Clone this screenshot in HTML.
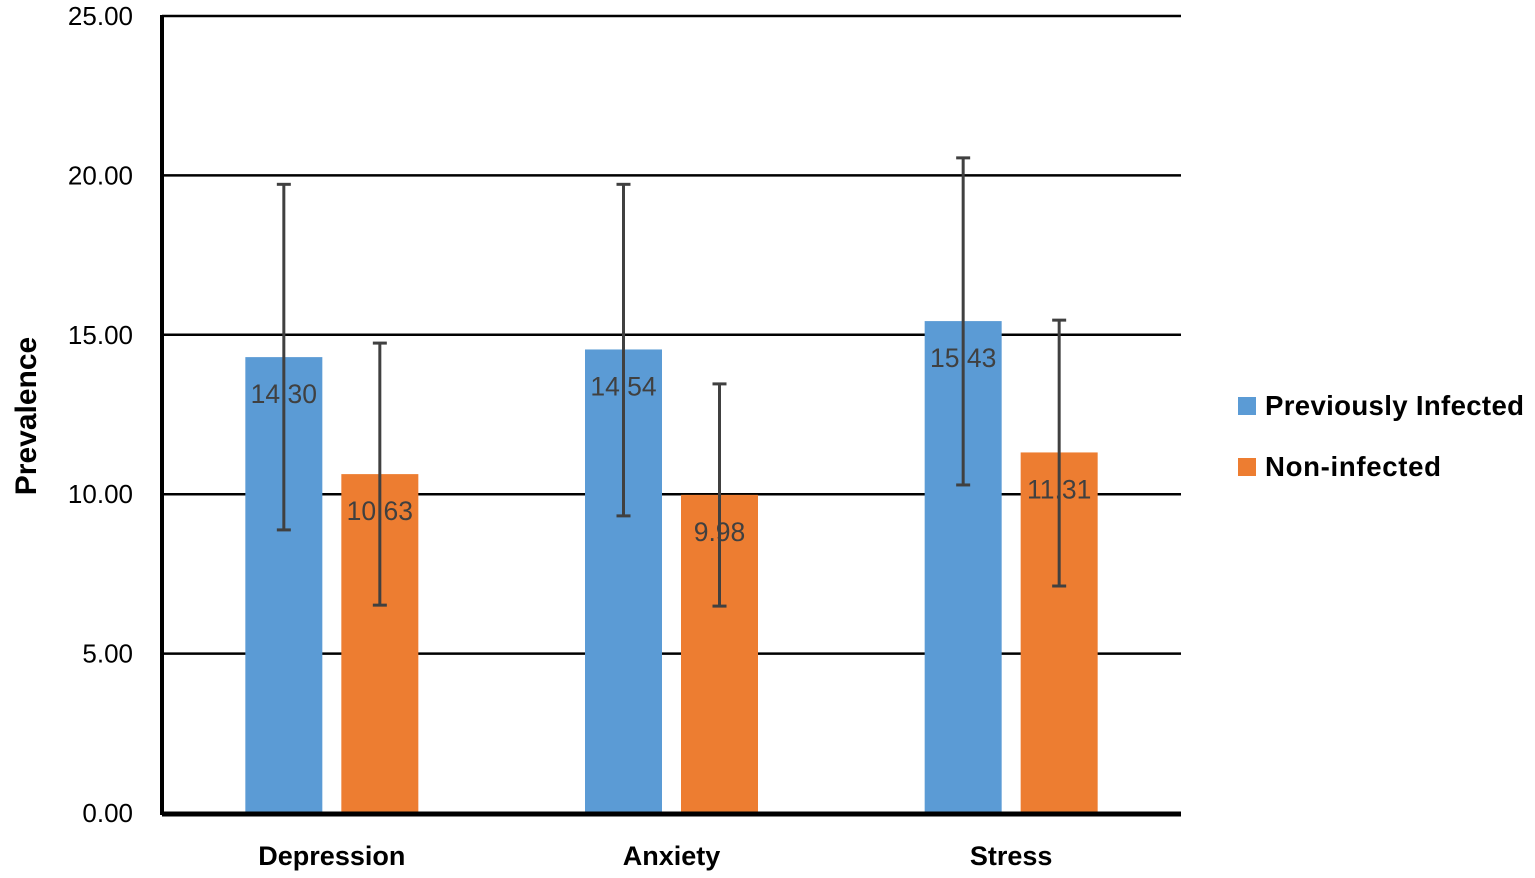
<!DOCTYPE html>
<html><head><meta charset="utf-8"><style>
html,body{margin:0;padding:0;background:#fff}
svg{display:block;font-family:"Liberation Sans",Arial,sans-serif}
</style></head><body>
<svg id="chart" width="1535" height="878" viewBox="0 0 1535 878">
<g id="grid"></g>
<g id="yticks"></g>
<g id="bars"></g>
<g id="xlabels"></g>
<text transform="translate(36,416) rotate(-90)" text-anchor="middle" font-size="30" font-weight="bold" fill="#000">Prevalence</text>
<g>
<g><rect x="1238" y="397" width="18" height="18" fill="#5B9BD5"/><text x="1265" y="415" font-size="27.6" font-weight="bold" textLength="259">Previously Infected</text></g>
<g><rect x="1238" y="458" width="18" height="18" fill="#ED7D31"/><text x="1265" y="476" font-size="27.6" font-weight="bold" textLength="176">Non-infected</text></g>
</g>
</svg>
<script>
const categories=["Depression","Anxiety","Stress"];
const infected=[14.30,14.54,15.43];
const nonInfected=[10.63,9.98,11.31];
const infectedLow=[8.88,9.32,10.29];
const infectedHigh=[19.72,19.72,20.55];
const nonLow=[6.52,6.49,7.12];
const nonHigh=[14.74,13.46,15.46];
const yTicks=[0,5,10,15,20,25];

const NS="http://www.w3.org/2000/svg";
const x0=162,x1=1181,yBase=813,yTop=16,yMax=25;
const y=v=>yBase-(v/yMax)*(yBase-yTop);
const band=(x1-x0)/categories.length;
const cx=i=>x0+band*(i+0.5);
function mk(tag,attrs,parent){const e=document.createElementNS(NS,tag);for(const k in attrs)e.setAttribute(k,attrs[k]);parent.appendChild(e);return e;}
const grid=document.getElementById('grid'),yt=document.getElementById('yticks'),bars=document.getElementById('bars'),xl=document.getElementById('xlabels');
yTicks.forEach(t=>{
  if(t>0){const l=mk('line',{x1:x0,x2:x1,y1:y(t),y2:y(t),stroke:'#000','stroke-width':2.5},grid);
  
  }
  const tx=mk('text',{x:133,y:y(t)+9,'text-anchor':'end','font-size':26,fill:'#000'},yt);
  tx.textContent=t.toFixed(2);
  
  
});
const series=[{vals:infected,lo:infectedLow,hi:infectedHigh,color:'#5B9BD5',off:-48,name:'infected'},
{vals:nonInfected,lo:nonLow,hi:nonHigh,color:'#ED7D31',off:48,name:'non-infected'}];
const bw=77;
categories.forEach((c,i)=>{
  series.forEach(s=>{
    const bx=cx(i)+s.off;
    const r=mk('rect',{x:bx-bw/2,y:y(s.vals[i]),width:bw,height:yBase-y(s.vals[i]),fill:s.color},bars);
    
    
    const lab=mk('text',{x:bx,y:y(s.vals[i])+46,'text-anchor':'middle','font-size':26.5,fill:'#404040'},bars);
    lab.textContent=s.vals[i].toFixed(2);
    
    
    const g=mk('g',{stroke:'#404040','stroke-width':3},bars);
    
    
    mk('line',{x1:bx,x2:bx,y1:y(s.lo[i]),y2:y(s.hi[i])},g);
    mk('line',{x1:bx-7,x2:bx+7,y1:y(s.lo[i]),y2:y(s.lo[i])},g);
    mk('line',{x1:bx-7,x2:bx+7,y1:y(s.hi[i]),y2:y(s.hi[i])},g);
  });
  const t=mk('text',{x:cx(i),y:865,'text-anchor':'middle','font-size':27,'font-weight':'bold'},xl);
  t.textContent=c;
  
  
});
const ax=mk('line',{x1:x0,x2:x0,y1:yTop-1,y2:yBase+2,stroke:'#000','stroke-width':4},grid);


const bx=mk('line',{x1:x0,x2:x1,y1:yBase+1,y2:yBase+1,stroke:'#000','stroke-width':5},bars);


</script>
</body></html>
